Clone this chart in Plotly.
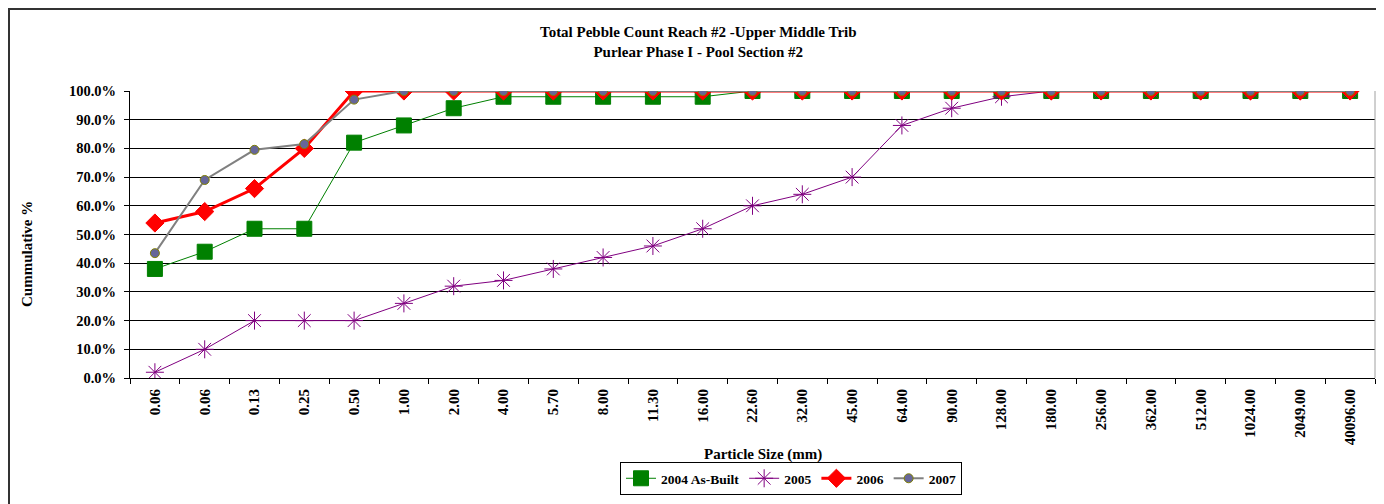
import plotly.graph_objects as go

categories = ["0.06", "0.06", "0.13", "0.25", "0.50", "1.00", "2.00", "4.00", "5.70", "8.00",
              "11.30", "16.00", "22.60", "32.00", "45.00", "64.00", "90.00", "128.00", "180.00",
              "256.00", "362.00", "512.00", "1024.00", "2049.00", "40096.00"]

s2004 = [0.38, 0.44, 0.52, 0.52, 0.82, 0.88, 0.94, 0.98, 0.98, 0.98, 0.98, 0.98, 1.00, 1.00,
         1.00, 1.00, 1.00, 1.00, 1.00, 1.00, 1.00, 1.00, 1.00, 1.00, 1.00]
s2005 = [0.02, 0.10, 0.20, 0.20, 0.20, 0.26, 0.32, 0.34, 0.38, 0.42, 0.46, 0.52, 0.60, 0.64,
         0.70, 0.88, 0.94, 0.98, 1.00, 1.00, 1.00, 1.00, 1.00, 1.00, 1.00]
s2006 = [0.54, 0.58, 0.66, 0.80, 1.00, 1.00, 1.00, 1.00, 1.00, 1.00, 1.00, 1.00, 1.00, 1.00,
         1.00, 1.00, 1.00, 1.00, 1.00, 1.00, 1.00, 1.00, 1.00, 1.00, 1.00]
s2007 = [0.435, 0.69, 0.795, 0.815, 0.97, 1.00, 1.00, 1.00, 1.00, 1.00, 1.00, 1.00, 1.00, 1.00,
         1.00, 1.00, 1.00, 1.00, 1.00, 1.00, 1.00, 1.00, 1.00, 1.00, 1.00]

title_lines = ["Total Pebble Count Reach #2 -Upper Middle Trib", "Purlear Phase I - Pool Section #2"]
x_title = "Particle Size (mm)"
y_title = "Cummulative %"

FONT = "Liberation Serif, Times New Roman, serif"
xs = list(range(len(categories)))

fig = go.Figure()
fig.add_trace(go.Scatter(
    x=xs, y=s2004, name="2004 As-Built", mode="lines+markers",
    line=dict(color="#008000", width=1),
    marker=dict(symbol="square", size=15, color="#008000", line=dict(color="#008000", width=1))))
fig.add_trace(go.Scatter(
    x=xs, y=s2005, name="2005", mode="lines+markers",
    line=dict(color="#800080", width=1),
    marker=dict(symbol="asterisk-open", size=15, color="#800080", line=dict(color="#800080", width=1))))
fig.add_trace(go.Scatter(
    x=xs, y=s2006, name="2006", mode="lines+markers",
    line=dict(color="#FF0000", width=3),
    marker=dict(symbol="diamond", size=14, color="#FF0000", line=dict(color="#FF0000", width=1))))
fig.add_trace(go.Scatter(
    x=xs, y=s2007, name="2007", mode="lines+markers",
    line=dict(color="#808080", width=2),
    marker=dict(symbol="circle", size=9, color="#666699", line=dict(color="#808000", width=1))))

# page is rendered with an 8px body margin; work in page pixel coords
OFF = 8
W, H = 1376, 496
PL, PR, PT, PB = 130, 1375, 91, 378  # plot area in page pixels
L, T = PL - OFF, PT - OFF
R = W - (PR - OFF)
B = H - (PB - OFF)
pw, ph = PR - PL, PB - PT

def px(xp):
    return (xp - PL) / pw

def py(yp):
    return (PB - yp) / ph

fig.update_layout(
    width=W, height=H,
    margin=dict(l=L, r=R, t=T, b=B),
    paper_bgcolor="white", plot_bgcolor="white",
    font=dict(family=FONT, size=12, color="black"),
    showlegend=True,
    legend=dict(orientation="h", x=px(791), xanchor="center", y=py(462), yanchor="top",
                bordercolor="black", borderwidth=1, bgcolor="white",
                font=dict(family=FONT, size=13.5, color="black", weight="bold"),
                itemwidth=30, tracegroupgap=0),
    xaxis=dict(
        range=[-0.5, len(categories) - 0.5],
        tickmode="array", tickvals=xs, ticktext=categories, ticks="",
        tickangle=-90, tickfont=dict(family=FONT, size=15, color="black", weight="bold"),
        ticklabelstandoff=4,
        showgrid=False, zeroline=False,
        showline=True, linecolor="black", linewidth=1,
        minor=dict(tickmode="array", tickvals=[i - 0.5 for i in range(len(categories) + 1)],
                   ticks="outside", ticklen=5, tickcolor="black", showgrid=False),
    ),
    yaxis=dict(
        range=[0, 1], tickmode="linear", tick0=0, dtick=0.1, tickformat=".1%",
        ticks="outside", ticklen=5, tickcolor="black",
        tickfont=dict(family=FONT, size=14.5, color="black", weight="bold"),
        ticklabelstandoff=5,
        showgrid=True, gridcolor="black", gridwidth=1,
        zeroline=False, showline=True, linecolor="black", linewidth=1,
    ),
    shapes=[
        dict(type="line", xref="paper", yref="paper", x0=1, x1=1, y0=0, y1=1,
             line=dict(color="#A0A0A0", width=1)),
        dict(type="rect", xref="paper", yref="paper", x0=px(OFF + 1), x1=px(1400), y0=py(520), y1=py(OFF + 1),
             line=dict(color="#333333", width=2), fillcolor="rgba(0,0,0,0)", layer="above"),
    ],
    annotations=[
        dict(text="<br>".join(title_lines), xref="paper", yref="paper", x=px(698), y=py(42),
             xanchor="center", yanchor="middle", showarrow=False,
             font=dict(family=FONT, size=15, color="black", weight="bold")),
        dict(text=x_title, xref="paper", yref="paper", x=px(763), y=py(454),
             xanchor="center", yanchor="middle", showarrow=False,
             font=dict(family=FONT, size=15, color="black", weight="bold")),
        dict(text=y_title, xref="paper", yref="paper", x=px(27), y=py(254),
             xanchor="center", yanchor="middle", showarrow=False, textangle=-90,
             font=dict(family=FONT, size=15, color="black", weight="bold")),
    ],
)

fig.write_html("out.html")
